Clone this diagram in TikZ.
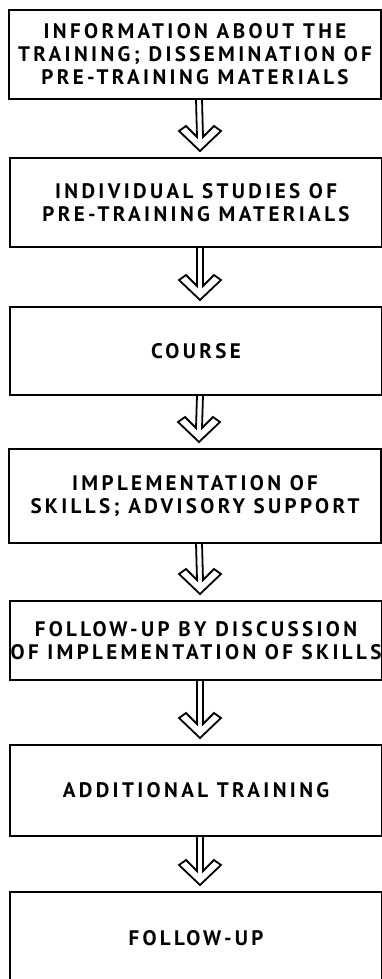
\documentclass[tikz,border=0pt]{standalone}
\usepackage{fontspec}
\setmainfont{PT Sans}[LetterSpace=16]
\usetikzlibrary{calc}

% hollow down arrow between two stages
\newcommand{\chevarrow}[2]{%
  \draw[chev] ($(#1.south)+(1,0)$) -- ($(#2.north)+(1,-21)$)
    -- ($(#2.north)+(-10,-32)$) -- ($(#2.north)+(-17,-27)$)
    -- ($(#2.north)+(4,-7)$)
    -- ($(#2.north)+(25,-27)$) -- ($(#2.north)+(18,-32)$)
    -- ($(#2.north)+(7,-21)$) -- ($(#1.south)+(7,0)$);}

\begin{document}
\begin{tikzpicture}[x=1pt, y=-1pt,
    stage/.style={draw, line width=2.2pt, outer sep=0pt, inner xsep=0pt,
      minimum width=372pt, align=center,
      font=\bfseries\fontsize{21}{23}\selectfont},
    chev/.style={line width=1.8pt, line join=miter}]
    \useasboundingbox (0,0) rectangle (382,979);

    \node[stage, minimum height=89pt] (info) at (195,54.5)
      {INFORMATION ABOUT THE\\ TRAINING; DISSEMINATION OF\\ PRE-TRAINING MATERIALS};
    \node[stage, minimum height=89pt] (studies) at (196,202.5)
      {INDIVIDUAL STUDIES OF\\ PRE-TRAINING MATERIALS};
    \node[stage, minimum height=88pt] (course) at (196,351) {COURSE};
    \node[stage, minimum height=94pt] (impl) at (195,496)
      {IMPLEMENTATION OF\\ SKILLS; ADVISORY SUPPORT};
    \node[stage, minimum height=79pt] (discuss) at (196,640.5)
      {FOLLOW-UP BY DISCUSSION\\ OF IMPLEMENTATION OF SKILLS};
    \node[stage, minimum height=91pt] (extra) at (196,790.5) {ADDITIONAL TRAINING};
    \node[stage, minimum height=92pt] (followup) at (196,938) {FOLLOW-UP};

    \chevarrow{info}{studies}
    \chevarrow{studies}{course}
    \chevarrow{course}{impl}
    \chevarrow{impl}{discuss}
    \chevarrow{discuss}{extra}
    \chevarrow{extra}{followup}
\end{tikzpicture}
\end{document}
